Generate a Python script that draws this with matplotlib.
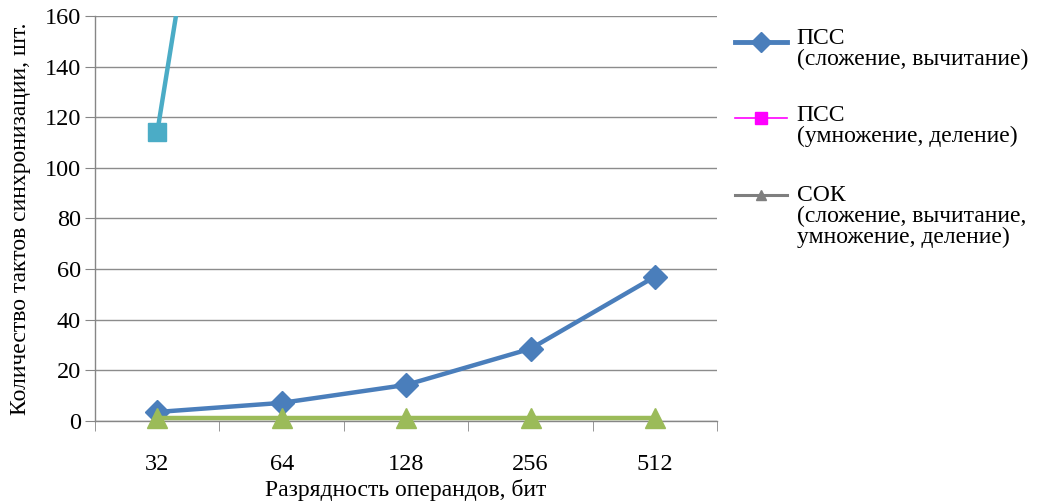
import numpy as np
import matplotlib
matplotlib.use("Agg")
import matplotlib.pyplot as plt
from matplotlib.lines import Line2D

# разрядность операндов
categories = ["32", "64", "128", "256", "512"]
pss_add = [3.5, 7.1, 14.2, 28.5, 57.0]      # ПСС сложение/вычитание
pss_mul = [114.0, 420.0]                     # ПСС умножение/деление (дальше за пределами шкалы)
sok_all = [1.0, 1.0, 1.0, 1.0, 1.0]          # СОК

legend_labels = ["ПСС\n(сложение, вычитание)",
                 "ПСС\n(умножение, деление)",
                 "СОК\n(сложение, вычитание,\nумножение, деление)"]

plt.rcParams['font.family'] = ['Liberation Serif', 'DejaVu Serif']

fig = plt.figure(figsize=(10.44, 5.01), dpi=100)
ax = fig.add_axes([0.091, 0.160, 0.596, 0.808])

x = np.arange(len(categories))
ax.plot(x, pss_add, color="#4A7EBB", lw=3.2, marker="D", ms=12, zorder=3, clip_on=False)
ax.plot(x[:len(pss_mul)], pss_mul, color="#4BACC6", lw=3.2, marker="s", ms=13, zorder=3)
ax.plot(x, sok_all, color="#9BBB59", lw=3.2, marker="^", ms=14.5, zorder=4, clip_on=False)

ax.set_xlim(-0.5, len(categories) - 0.5)
ax.set_ylim(0, 160)
ax.set_yticks(np.arange(0, 161, 20))
ax.set_xticks(x)
ax.set_xticklabels(categories)
ax.set_xticks(np.arange(-0.5, len(categories), 1.0), minor=True)
ax.tick_params(axis="x", which="major", length=0, pad=24, labelsize=17.5)
ax.tick_params(axis="x", which="minor", length=7, color="#868686", direction="out")
ax.tick_params(axis="y", length=7, color="#868686", labelsize=17.5, pad=3)
ax.grid(axis="y", color="#8C8C8C", lw=1)
ax.set_axisbelow(True)
for s in ["top", "right"]:
    ax.spines[s].set_visible(False)
for s in ["left", "bottom"]:
    ax.spines[s].set_color("#868686")
    ax.spines[s].set_linewidth(1)

ax.set_xlabel("Разрядность операндов, бит", fontsize=17, labelpad=3)
ax.set_ylabel("Количество тактов синхронизации, шт.", fontsize=17, labelpad=10)

# легенда вручную: маркер на уровне первой строки
handles = [dict(color="#4A7EBB", lw=3.5, marker="D", ms=10),
           dict(color="#FF00FF", lw=1.2, marker="s", ms=8),
           dict(color="#7F7F7F", lw=2.2, marker="^", ms=7)]
y_tops = [0.944, 0.790, 0.631]
y_handles = [0.916, 0.764, 0.611]
for h, lab, yt, yc in zip(handles, legend_labels, y_tops, y_handles):
    fig.add_artist(Line2D([0.704, 0.729, 0.754], [yc, yc, yc], transform=fig.transFigure,
                          markevery=[1], **h))
    fig.text(0.763, yt, lab, fontsize=17, va="top", ha="left", linespacing=1.0)

fig.savefig("out.png", dpi=100)
